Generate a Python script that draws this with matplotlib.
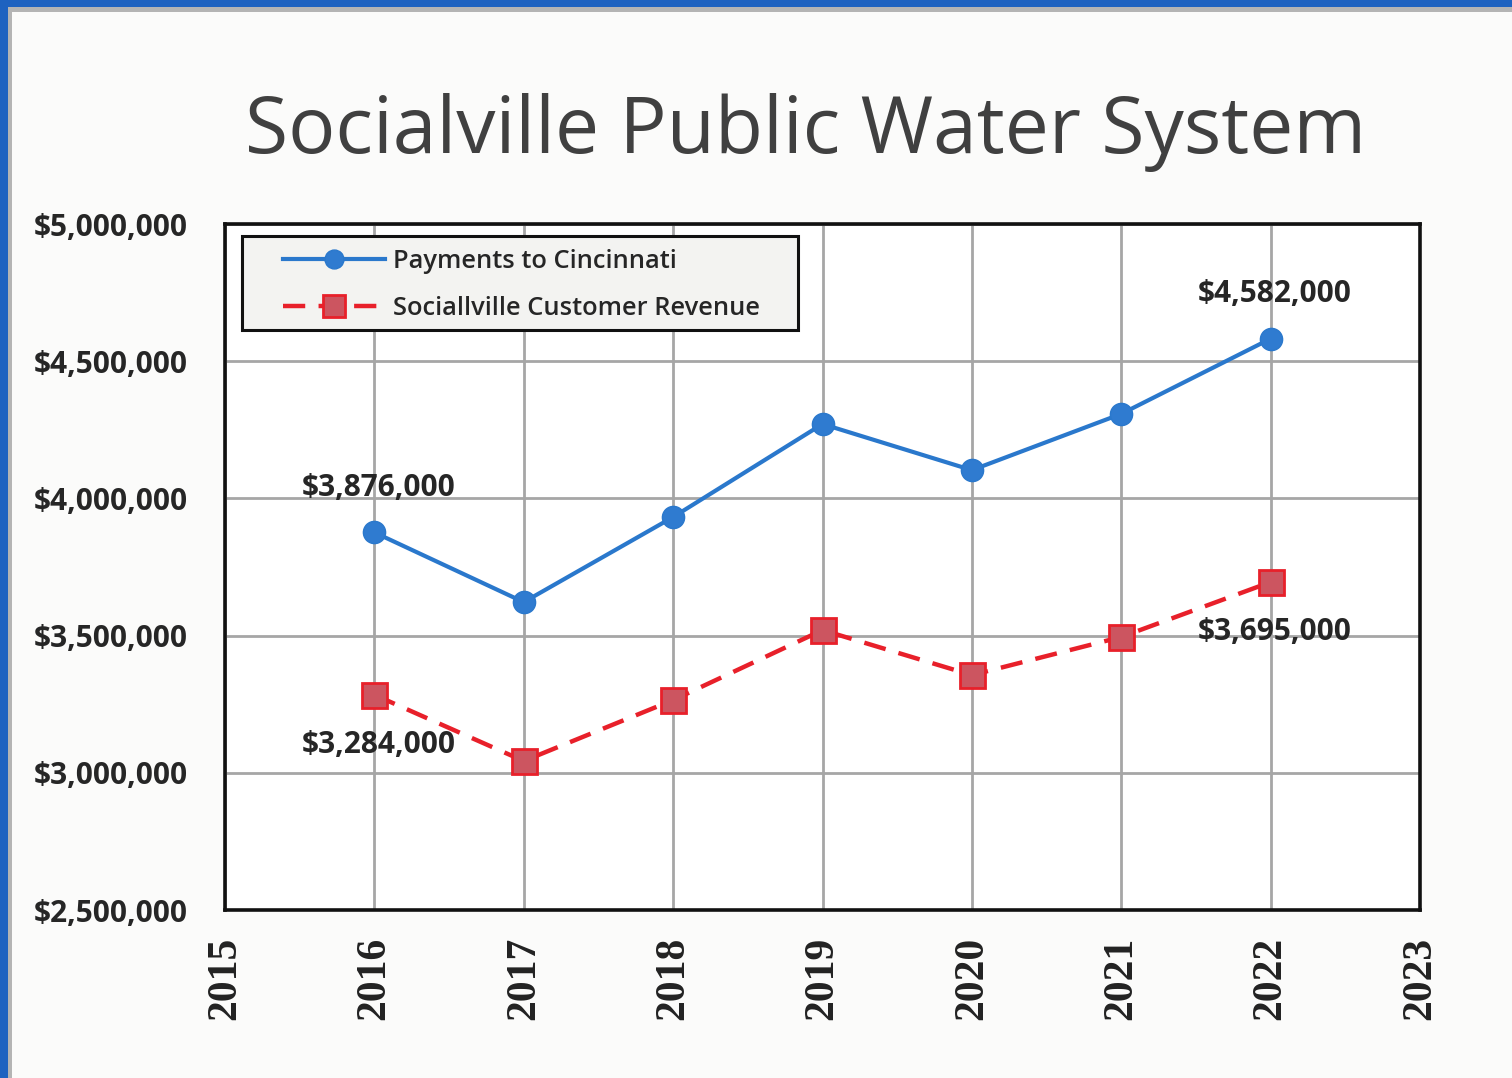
import matplotlib.pyplot as plt
from matplotlib.patches import Rectangle
from matplotlib.ticker import FuncFormatter

years = [2016, 2017, 2018, 2019, 2020, 2021, 2022]
payments = [3876000, 3622000, 3932000, 4271000, 4103000, 4308000, 4582000]
revenue = [3284000, 3043000, 3265000, 3520000, 3356000, 3495000, 3695000]
series_names = ["Payments to Cincinnati", "Sociallville Customer Revenue"]
title = "Socialville Public Water System"

W, H = 1512, 1078
fig = plt.figure(figsize=(W / 100, H / 100), dpi=100)
fig.patch.set_facecolor("#1e62c0")

# scanned slide frame: blue edge, thin gray line, white page
fig.add_artist(Rectangle((8 / W, 0), 1, 1 - 7 / H, transform=fig.transFigure,
                         facecolor="#b4b4b4", edgecolor="none", zorder=-2))
fig.add_artist(Rectangle((12 / W, 0), 1, 1 - 12 / H, transform=fig.transFigure,
                         facecolor="#fbfbfa", edgecolor="none", zorder=-1))

ax = fig.add_axes([225 / W, 1 - 910 / H, (1420 - 225) / W, (910 - 224) / H])
ax.set_facecolor("white")

ax.plot(years, payments, color="#2a78cc", lw=3.0, marker="o", ms=16,
        mfc="#2f7bd0", mec="#2a78cc", label=series_names[0], zorder=4)
ax.plot(years, revenue, color="#e8202a", lw=3.2, ls=(0, (5, 3)), marker="s", ms=18,
        mfc="#cc5560", mec="#e8202a", mew=2, label=series_names[1], zorder=4)

lab_font = dict(fontsize=21.5, fontweight="bold", color="#262626", family="Open Sans",
                ha="center", va="center")
for i in (0, -1):
    ax.annotate(f"${payments[i]:,}", (years[i], payments[i]), xytext=(3, 32),
                textcoords="offset points", **lab_font)
    ax.annotate(f"${revenue[i]:,}", (years[i], revenue[i]), xytext=(3, -36),
                textcoords="offset points", **lab_font)

ax.set_xlim(2015, 2023)
ax.set_ylim(2500000, 5000000)
ax.set_xticks(range(2015, 2024))
ax.set_yticks(range(2500000, 5000001, 500000))
ax.yaxis.set_major_formatter(FuncFormatter(lambda v, p: f"${int(v):,}"))
ax.grid(True, color="#a6a6a6", lw=2.0, zorder=1)
ax.set_axisbelow(True)
for s in ax.spines.values():
    s.set_linewidth(2.6)
    s.set_color("#111111")
ax.tick_params(length=0, pad=27, axis="y")
ax.tick_params(length=0, pad=19, axis="x")
for t in ax.get_yticklabels():
    t.set_fontsize(21.5)
    t.set_fontweight("bold")
    t.set_family("Open Sans")
    t.set_color("#262626")
for t in ax.get_xticklabels():
    t.set_rotation(90)
    t.set_fontsize(30)
    t.set_fontweight("bold")
    t.set_family("Liberation Serif")
    t.set_color("#222222")

# legend box drawn separately (wider side padding than top/bottom)
box = Rectangle((242 / W, 1 - 330 / H), (798 - 242) / W, (330 - 236) / H,
                transform=fig.transFigure, facecolor="#f3f3f1", edgecolor="#111111",
                lw=2.2, zorder=5, clip_on=False)
ax.add_artist(box)
leg = ax.legend(loc="upper left", bbox_to_anchor=(283 / W, 1 - 249 / H),
                bbox_transform=fig.transFigure, frameon=False, markerscale=0.85,
                handlelength=4.0, handletextpad=0.3, borderpad=0, borderaxespad=0,
                labelspacing=0.85,
                prop=dict(family="Open Sans", size=18.4, weight="semibold"))
leg.set_zorder(6)
for t in leg.get_texts():
    t.set_color("#262626")

fig.text(806 / W, 1 - 133 / H, title, ha="center", va="center", fontsize=56.5,
         family="Open Sans", color="#404040")

fig.savefig("out.png", dpi=100, facecolor=fig.get_facecolor())
